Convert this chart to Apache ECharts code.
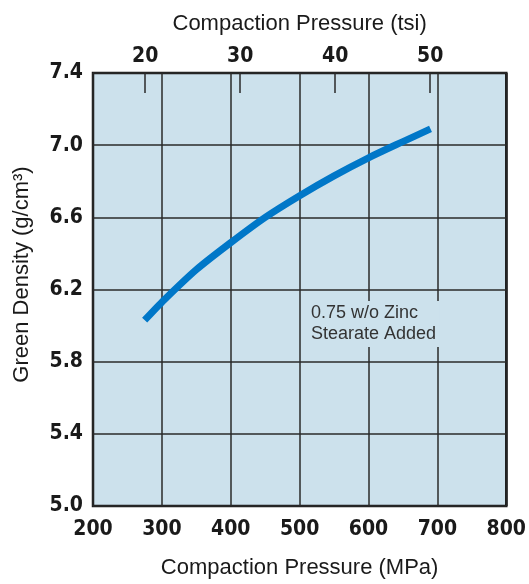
<!DOCTYPE html>
<html>
<head>
<meta charset="utf-8">
<script src="https://cdn.jsdelivr.net/npm/echarts@6/dist/echarts.min.js"></script>
<style>
  html, body { margin: 0; padding: 0; background: #fff; }
  #chart { width: 529px; height: 584px; }
</style>
</head>
<body>
<div id="chart"></div>
<script>
// Compaction pressure (MPa) vs green density (g/cm3)
var pressureMPa = [275, 300, 350, 400, 450, 500, 550, 600, 650, 690];
var greenDensity = [6.03, 6.13, 6.31, 6.46, 6.60, 6.72, 6.83, 6.93, 7.02, 7.09];
var tsiTicks = [20, 30, 40, 50];
var MPA_PER_TSI = 13.7895;
var curveLabel = "0.75 w/o Zinc\nStearate Added";

var seriesData = [];
for (var i = 0; i < pressureMPa.length; i++) {
	seriesData.push([pressureMPa[i], greenDensity[i]]);
}

var tickFont = {
	fontFamily: "DejaVu Sans Condensed",
	fontWeight: "bold",
	fontSize: 21,
	color: "#1a1a1a"
};
var nameFont = {
	fontFamily: "Liberation Sans",
	fontSize: 22,
	color: "#1a1a1a"
};

var myChart = echarts.init(document.getElementById("chart"));
var option = {
	animation: false,
	grid: {
		left: 93, right: 18, top: 73, bottom: 77,
		show: true,
		backgroundColor: "#cce1ec",
		borderColor: "#1a1a1a",
		borderWidth: 2.5
	},
	xAxis: [{
		type: "value",
		position: "bottom",
		min: 200, max: 800, interval: 100,
		name: "Compaction Pressure (MPa)",
		nameLocation: "middle",
		nameGap: 51,
		nameTextStyle: nameFont,
		axisLine: { show: false },
		axisTick: { show: false },
		axisLabel: Object.assign({ margin: 13 }, tickFont),
		splitLine: { show: true, lineStyle: { color: "#2a2a2a", width: 1.5 } }
	}, {
		type: "value",
		position: "top",
		min: 200 / MPA_PER_TSI, max: 800 / MPA_PER_TSI,
		name: "Compaction Pressure (tsi)",
		nameLocation: "middle",
		nameGap: 38,
		nameTextStyle: nameFont,
		axisLine: { show: false },
		axisTick: {
			show: true, inside: true, length: 20,
			customValues: tsiTicks,
			lineStyle: { color: "#2a2a2a", width: 1.5 }
		},
		axisLabel: Object.assign({ margin: 6, customValues: tsiTicks }, tickFont),
		splitLine: { show: false }
	}],
	yAxis: {
		type: "value",
		min: 5.0, max: 7.4, interval: 0.4,
		name: "Green Density (g/cm³)",
		nameLocation: "middle",
		nameGap: 60,
		nameTextStyle: Object.assign({ padding: [0, 0, 0, 30] }, nameFont),
		axisLine: { show: false },
		axisTick: { show: false },
		axisLabel: Object.assign({
			margin: 10,
			formatter: function (v) { return v.toFixed(1); }
		}, tickFont),
		splitLine: { show: true, lineStyle: { color: "#2a2a2a", width: 1.5 } }
	},
	series: [{
		type: "line",
		xAxisIndex: 0,
		data: seriesData,
		smooth: 0.3,
		showSymbol: false,
		lineStyle: { color: "#0077c8", width: 7, cap: "butt" },
		z: 3
	}],
	graphic: [{
		type: "text",
		left: 308, top: 301,
		z: 10,
		style: {
			text: curveLabel,
			fontFamily: "Liberation Sans",
			fontSize: 18,
			lineHeight: 21,
			fill: "#333",
			backgroundColor: "#cce1ec",
			padding: [2, 3, 2, 3]
		}
	}]
};
myChart.setOption(option);
</script>
</body>
</html>
